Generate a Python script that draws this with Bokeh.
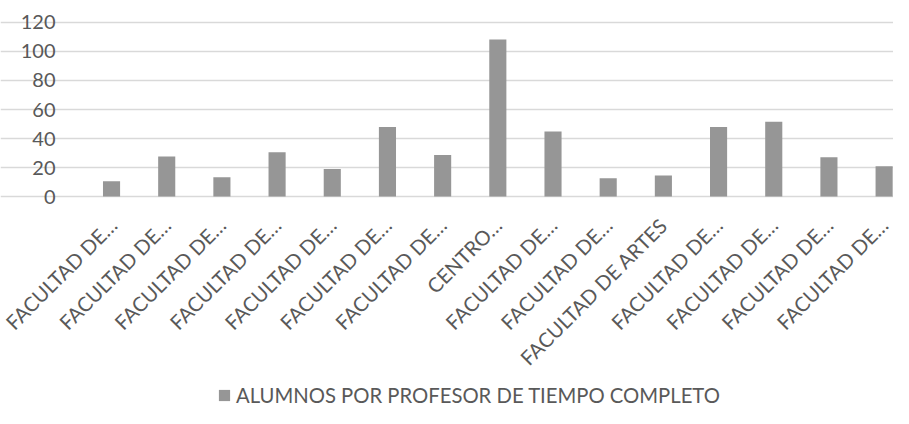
from math import pi
from bokeh.plotting import figure
from bokeh.models import Range1d, FixedTicker, Legend, LegendItem
from bokeh.embed import file_html
from bokeh.resources import INLINE

categories = [
    "FACULTAD DE…", "FACULTAD DE…", "FACULTAD DE…", "FACULTAD DE…",
    "FACULTAD DE…", "FACULTAD DE…", "FACULTAD DE…", "CENTRO…",
    "FACULTAD DE…", "FACULTAD DE…", "FACULTAD DE ARTES", "FACULTAD DE…",
    "FACULTAD DE…", "FACULTAD DE…", "FACULTAD DE…",
]
values = [10.6, 27.6, 13.3, 30.6, 18.9, 48.0, 28.7, 108.3, 44.8, 12.6, 14.5, 48.0, 51.5, 27.1, 20.9]
y_ticks = [0, 20, 40, 60, 80, 100, 120]
series_name = "ALUMNOS POR PROFESOR DE TIEMPO COMPLETO"

positions = list(range(len(categories)))

TEXT = "#595959"
FONT = "Lato"

# Plot area edges (data units) of the reference's visible plot region.
x_left, x_right = -0.49, 14.17

# The frame fills the canvas; both axes are pinned inside it so the rotated
# category labels and the legend sit in the space below/left of the bars.
p = figure(
    width=893, height=408,
    min_border_left=0, min_border_right=0, min_border_top=0, min_border_bottom=0,
    x_range=Range1d(-2.012, x_right), y_range=Range1d(-146.2, 135.17),
    output_backend="svg", toolbar_location=None,
)
p.outline_line_color = None
p.background_fill_color = "white"

bars = p.vbar(x=positions, top=values, bottom=0, width=0.31,
              fill_color="#969696", line_color=None)

p.xgrid.visible = False
p.ygrid.ticker = FixedTicker(ticks=y_ticks)
p.ygrid.bounds = (x_left, x_right)
p.ygrid.grid_line_color = "#D9D9D9"
p.ygrid.grid_line_width = 1.5

ya = p.yaxis[0]
ya.fixed_location = x_left
ya.ticker = FixedTicker(ticks=y_ticks)
ya.axis_line_color = None
ya.major_tick_line_color = None
ya.minor_tick_line_color = None
ya.major_label_standoff = 23
ya.major_label_text_font = FONT
ya.major_label_text_font_size = "20px"
ya.major_label_text_color = TEXT

xa = p.xaxis[0]
xa.fixed_location = 0
xa.ticker = FixedTicker(ticks=positions)
xa.major_label_overrides = {i: c for i, c in zip(positions, categories)}
xa.major_label_orientation = pi / 4
xa.axis_line_color = None
xa.major_tick_line_color = None
xa.minor_tick_line_color = None
xa.major_label_standoff = 19
xa.major_label_text_font = FONT
xa.major_label_text_font_size = "20.2px"
xa.major_label_text_color = TEXT

legend = Legend(items=[LegendItem(label=series_name, renderers=[bars])],
                orientation="horizontal", location=(217, 1))
legend.margin = 0
legend.padding = 0
legend.border_line_color = None
legend.background_fill_alpha = 0
legend.glyph_width = 14
legend.glyph_height = 14
legend.label_standoff = 5
legend.label_text_font = FONT
legend.label_text_font_size = "20.25px"
legend.label_text_color = TEXT
p.add_layout(legend, "center")

open("out.html", "w").write(file_html(p, INLINE))
